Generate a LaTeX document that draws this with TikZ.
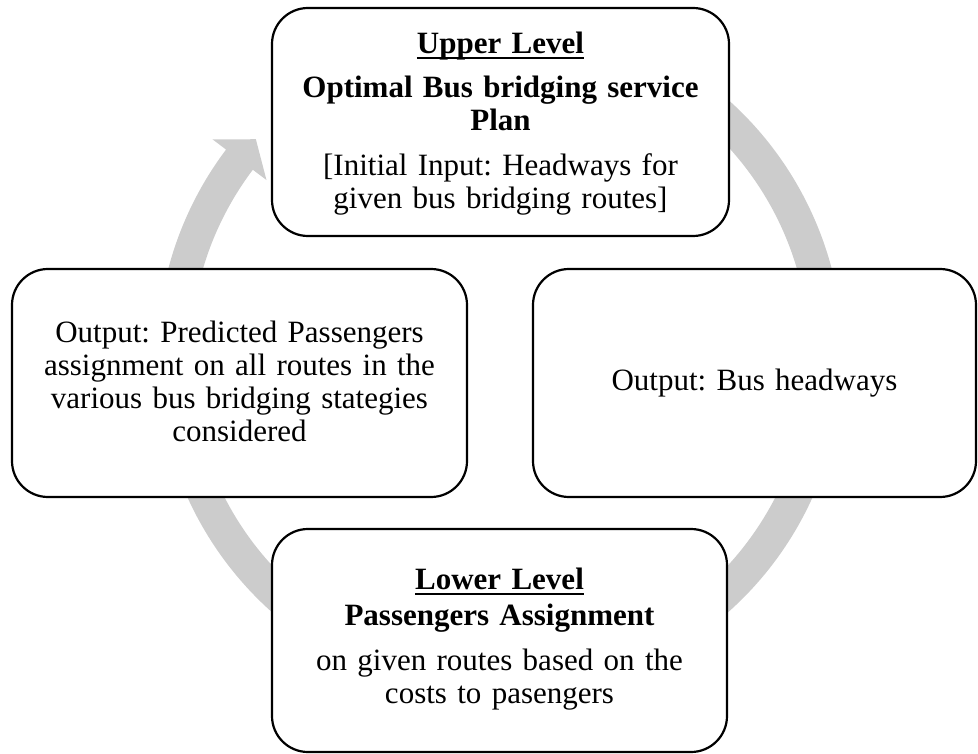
\documentclass[tikz,border=0pt]{standalone}
\usepackage{fontspec}
\setmainfont{Liberation Serif}
\usetikzlibrary{calc}
\definecolor{ringgrey}{RGB}{204,204,204}
% bold heading with an underline that runs through the descenders
\newcommand\ulbar[1]{\setbox0\hbox{#1}\rlap{\rule[-5.5pt]{\wd0}{2pt}}\box0}
\frenchspacing

\begin{document}
\begin{tikzpicture}[x=1pt, y=-1pt,
  stage/.style={draw=black, line width=2.2pt, fill=white,
                rounded corners=36pt, inner sep=0pt},
  boxtext/.style={anchor=base, text width=420pt, align=center,
                  inner sep=0pt, font=\fontsize{31}{33}\selectfont}]
\useasboundingbox (0,0) rectangle (978,754);

% circular arrow behind the four stages
\coordinate (hub) at (500,356);
\fill[ringgrey]
  ($(hub)+(-70:343)$) arc[start angle=-70, end angle=217, radius=343]
  -- ($(hub)+(217:360)$) -- ($(hub)+(221.6:326.5)$) -- ($(hub)+(217:292.4)$)
  -- ($(hub)+(217:309.5)$) arc[start angle=217, end angle=-70, radius=309.5]
  -- cycle;

% the four stages
\node[stage, minimum width=457pt, minimum height=228pt] (upper) at (500.5,122) {};
\node[stage, minimum width=455pt, minimum height=228pt] (left)  at (239.5,383) {};
\node[stage, minimum width=443pt, minimum height=228pt] (right) at (754.5,383) {};
\node[stage, minimum width=455pt, minimum height=223pt] (lower) at (499.5,640.5) {};

\node[boxtext] (upper-text) at ($(upper.north)+(0,47)$) {%
  \ulbar{\bfseries Upper Level}\\[10.5pt]
  {\bfseries Optimal Bus bridging service}\\
  {\bfseries Plan}\\[12pt]
  {[}Initial Input: Headways for\\
  given bus bridging routes{]}};

\node[boxtext] (left-text) at ($(left.north)+(0,75)$) {%
  Output: Predicted Passengers\\
  assignment on all routes in the\\
  various bus bridging stategies\\
  considered};

\node[boxtext] (right-text) at ($(right.north)+(0,123)$) {Output: Bus headways};

\node[boxtext] (lower-text) at ($(lower.north)+(0,62)$) {%
  \ulbar{\bfseries Lower Level}\\[3pt]
  {\bfseries Passengers Assignment}\\[12pt]
  on given routes based on the\\
  costs to pasengers};
\end{tikzpicture}
\end{document}
